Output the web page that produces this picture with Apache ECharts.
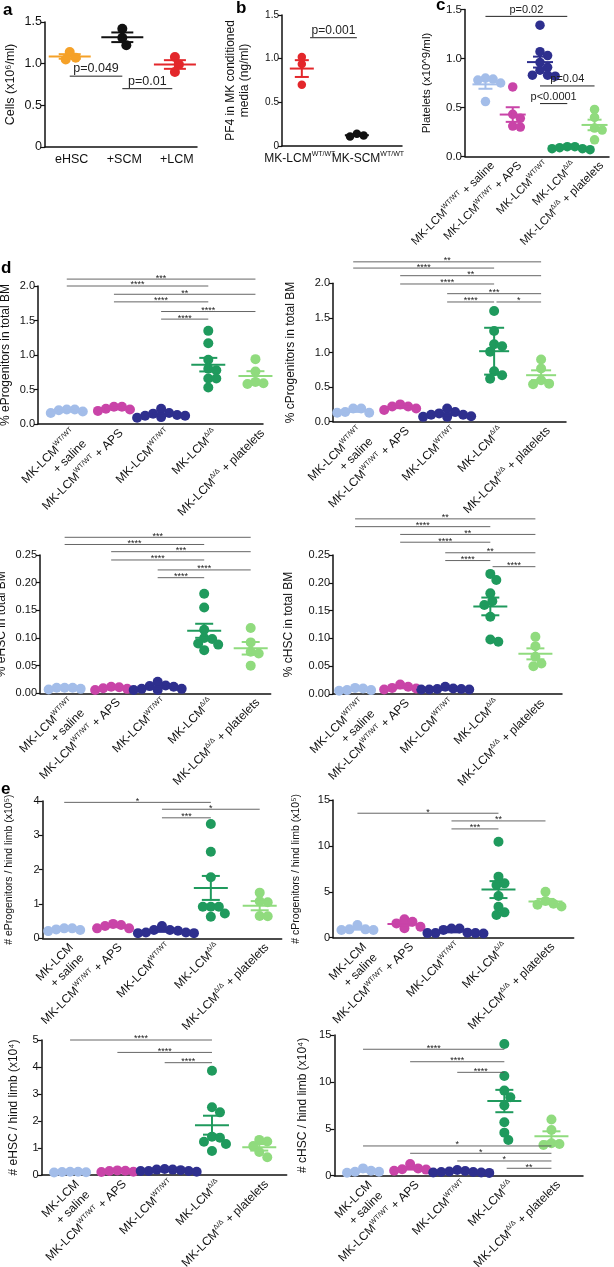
<!DOCTYPE html>
<html>
<head>
<meta charset="utf-8">
<script src="https://cdn.jsdelivr.net/npm/echarts@6/dist/echarts.min.js"></script>
<style>
  html, body { margin: 0; padding: 0; background: #fff; }
  #chart { width: 614px; height: 1267px; }
</style>
</head>
<body>
<div id="chart"></div>
<script>
// ---------- values ----------
// a: cells (x10^6/ml)
const aEHSC = [1.14, 1.05, 1.07];
const aSCM = [1.42, 1.31, 1.22];
const aLCM = [1.08, 0.99, 0.90];
const aSig = [[0, 1, 0.85, 'p=0.049'], [1, 1.95, 0.70, 'p=0.01']];

// b: PF4 (ng/ml)
const bLCM = [1.02, 0.94, 0.70];
const bSCM = [0.11, 0.14, 0.12];
const bSig = [[0.15, 1, 1.24, 'p=0.001']];

// c-e groups: WT/WT + saline, WT/WT + APS, WT/WT, Δ/Δ, Δ/Δ + platelets
const cPlatelets = [
  [0.79, 0.80, 0.75, 0.56, 0.78],
  [0.71, 0.43, 0.39, 0.31, 0.30],
  [1.34, 1.07, 1.03, 0.96, 0.91, 0.88, 0.83, 0.82, 0.83],
  [0.10, 0.08, 0.07, 0.09, 0.10, 0.08],
  [0.48, 0.40, 0.29, 0.27, 0.17]
];
const cSig = [[0, 3, 1.43, 'p=0.02'], [2, 4, 0.72, 'p=0.04'], [2, 3, 0.54, 'p<0.0001']];

const dEProg = [
  [0.18, 0.21, 0.21, 0.20, 0.16],
  [0.21, 0.25, 0.22, 0.25, 0.19],
  [0.12, 0.16, 0.13, 0.22, 0.10, 0.15, 0.09, 0.12],
  [1.35, 1.17, 0.93, 0.80, 0.78, 0.66, 0.66, 0.53],
  [0.94, 0.76, 0.61, 0.59, 0.58]
];
const dEProgSig = [[0, 4, 2.10, '***'], [0, 3, 2.00, '****'], [1, 4, 1.88, '**'], [1, 3, 1.77, '****'], [2, 4, 1.63, '****'], [2, 3, 1.52, '****']];

const dCProg = [
  [0.14, 0.19, 0.13, 0.19, 0.13],
  [0.19, 0.25, 0.22, 0.22, 0.17],
  [0.14, 0.10, 0.07, 0.19, 0.10, 0.07, 0.08, 0.12],
  [1.60, 1.31, 1.12, 1.09, 1.01, 0.73, 0.62, 0.67],
  [0.90, 0.77, 0.60, 0.54, 0.55]
];
const dCProgSig = [[0, 4, 2.31, '**'], [0, 3, 2.22, '****'], [1, 4, 2.11, '**'], [1, 3, 1.99, '****'], [2, 4, 1.85, '***'], [2, 3, 1.73, '****'], [3.05, 4, 1.73, '*']];

const dEHSC = [
  [0.008, 0.010, 0.010, 0.010, 0.007],
  [0.008, 0.012, 0.009, 0.011, 0.006],
  [0.008, 0.014, 0.008, 0.021, 0.006, 0.013, 0.006, 0.012],
  [0.180, 0.155, 0.115, 0.100, 0.098, 0.090, 0.088, 0.078],
  [0.118, 0.092, 0.075, 0.072, 0.050]
];
const dEHSCSig = [[0, 4, 0.282, '***'], [0, 3, 0.269, '****'], [1, 4, 0.256, '***'], [1, 3, 0.241, '****'], [2, 4, 0.223, '****'], [2, 3, 0.209, '****']];

const dCHSC = [
  [0.007, 0.011, 0.007, 0.010, 0.006],
  [0.010, 0.017, 0.011, 0.013, 0.008],
  [0.013, 0.010, 0.009, 0.008, 0.009, 0.008, 0.008],
  [0.216, 0.205, 0.181, 0.167, 0.160, 0.139, 0.094, 0.098],
  [0.103, 0.086, 0.067, 0.055, 0.050]
];
const dCHSCSig = [[0, 4, 0.315, '**'], [0, 3, 0.301, '****'], [1, 4, 0.287, '**'], [1, 3, 0.273, '****'], [2, 4, 0.254, '**'], [2, 3, 0.240, '****'], [3.05, 4, 0.229, '****']];

const eEProg = [
  [0.24, 0.29, 0.26, 0.29, 0.21],
  [0.29, 0.42, 0.36, 0.39, 0.29],
  [0.17, 0.24, 0.15, 0.36, 0.24, 0.15, 0.22, 0.17],
  [3.33, 2.52, 1.78, 0.92, 0.92, 0.92, 0.63, 0.72],
  [1.33, 1.05, 1.08, 0.65, 0.64]
];
const eEProgSig = [[0, 3, 3.96, '*'], [2, 4, 3.76, '*'], [2, 3, 3.51, '***']];

const eCProg = [
  [0.84, 1.38, 0.91, 0.91, 0.84],
  [2.00, 1.74, 1.20, 1.02, 1.56],
  [0.55, 1.00, 1.00, 0.85, 0.50, 0.50, 0.50, 0.45],
  [10.46, 5.92, 6.65, 5.74, 4.54, 3.38, 2.76, 2.47],
  [5.0, 4.0, 3.4, 3.6, 3.7]
];
const eCProgSig = [[0, 3, 13.56, '*'], [2, 4, 12.72, '**'], [2, 3, 11.85, '***']];

const eEHSC = [
  [0.10, 0.12, 0.11, 0.12, 0.09],
  [0.12, 0.17, 0.15, 0.16, 0.11],
  [0.15, 0.20, 0.15, 0.22, 0.12, 0.20, 0.18, 0.15],
  [3.86, 2.32, 2.51, 1.42, 1.23, 1.38, 1.15, 0.89],
  [1.30, 1.24, 1.07, 0.66, 0.85]
];
const eEHSCSig = [[0, 3, 5.0, '****'], [1, 3, 4.54, '****'], [2, 3, 4.16, '****']];

const eCHSC = [
  [0.53, 0.78, 0.43, 0.43, 0.32],
  [1.24, 0.78, 0.68, 0.65, 0.53],
  [0.50, 0.60, 0.40, 0.35, 0.45, 0.35, 0.40, 0.30],
  [14.04, 10.63, 9.07, 8.36, 7.50, 5.69, 4.59, 3.80],
  [6.00, 4.87, 3.27, 3.45, 3.38]
];
const eCHSCSig = [[0, 3, 13.48, '****'], [1, 3, 12.15, '****'], [2, 3, 11.02, '****'], [0, 4, 3.17, '*'], [1, 4, 2.39, '*'], [2, 4, 1.57, '*'], [3.05, 4, 0.79, '**']];

// category labels
const labelsC = ['MK-LCM{s|WT/WT} + saline', 'MK-LCM{s|WT/WT} + APS', 'MK-LCM{s|WT/WT}', 'MK-LCM{s|Δ/Δ}', 'MK-LCM{s|Δ/Δ} + platelets'];
const labelsD = ['MK-LCM{s|WT/WT}\n+ saline', 'MK-LCM{s|WT/WT} + APS', 'MK-LCM{s|WT/WT}', 'MK-LCM{s|Δ/Δ}', 'MK-LCM{s|Δ/Δ} + platelets'];
const labelsE = ['MK-LCM\n+ saline', 'MK-LCM{s|WT/WT} + APS', 'MK-LCM{s|WT/WT}', 'MK-LCM{s|Δ/Δ}', 'MK-LCM{s|Δ/Δ} + platelets'];

const groupColors = ['#a3bde9', '#c944a8', '#2e2f8e', '#1f9a5d', '#90db7e'];

// ---------- helpers ----------
const FONT = '"Liberation Sans", Arial, Helvetica, sans-serif';
const chart = echarts.init(document.getElementById('chart'));
const grids = [], xAxes = [], yAxes = [], series = [];

function mean (v) { return v.reduce((s, x) => s + x, 0) / v.length }
function sd (v) {
  const m = mean(v)
  return Math.sqrt(v.reduce((s, x) => s + (x - m) * (x - m), 0) / (v.length - 1))
}
function sem (v) { return sd(v) / Math.sqrt(v.length) }

// simple beeswarm, pixel offsets
function swarm (vals, pxY, d) {
  const order = vals.map((v, i) => i).sort((i, j) => vals[j] - vals[i])
  const placed = []
  const off = vals.map(() => 0)
  const minD = d * 0.8
  const step = d * 0.2
  order.forEach(i => {
    const y = vals[i] * pxY
    for (let k = 0; k < 400; k++) {
      const x = (k % 2 ? 1 : -1) * Math.ceil(k / 2) * step
      if (placed.every(p => (p.x - x) * (p.x - x) + (p.y - y) * (p.y - y) >= minD * minD)) {
        off[i] = x
        placed.push({ x, y })
        break
      }
    }
  })
  return off
}

function addPanel (p) {
  const gi = grids.length
  grids.push({ left: p.left, top: p.top, width: p.width, height: p.height, outerBoundsMode: 'none', containLabel: false })
  xAxes.push({
    gridIndex: gi, type: 'value', min: p.xMin, max: p.xMax,
    axisLine: { onZero: false, lineStyle: { color: '#111', width: 1.5 } },
    axisTick: { show: false }, axisLabel: { show: false }, splitLine: { show: false }
  })
  yAxes.push({
    gridIndex: gi, type: 'value', min: 0, max: p.yMax, interval: p.yStep,
    name: p.name, nameLocation: 'middle', nameGap: p.nameGap,
    nameTextStyle: { fontFamily: FONT, fontSize: p.nameSize, color: '#111', lineHeight: p.nameSize + 2 },
    axisLine: { onZero: false, lineStyle: { color: '#111', width: 1.5 } },
    axisTick: { length: 4, lineStyle: { color: '#111', width: 1.2 } },
    axisLabel: { fontFamily: FONT, fontSize: p.tickSize, color: '#111', margin: 3, formatter: v => (v === 0 && p.zero) ? p.zero : v.toFixed(p.dec) },
    splitLine: { show: false }
  })
  const pxX = p.width / (p.xMax - p.xMin)
  const pxY = p.height / p.yMax

  // dots
  p.groups.forEach((vals, g) => {
    const off = swarm(vals, pxY, p.dot)
    series.push({
      type: 'scatter', xAxisIndex: gi, yAxisIndex: gi, symbol: 'circle', symbolSize: p.dot, clip: false, z: 3,
      itemStyle: { color: p.colors[g], opacity: 1 },
      data: vals.map((v, i) => [g + off[i] / pxX, v])
    })
  })

  // mean and error bars
  series.push({
    type: 'custom', xAxisIndex: gi, yAxisIndex: gi, z: 4, silent: true,
    data: p.groups.map((v, g) => [g, mean(v), (p.sd || []).includes(g) ? sd(v) : sem(v)]),
    renderItem: (params, api) => {
      const g = api.value(0)
      const m = api.value(1)
      const e = api.value(2)
      const c = api.coord([g, m])
      const hi = api.coord([g, m + e])
      const lo = api.coord([g, m - e])
      const st = { stroke: p.colors[g], lineWidth: p.barLW }
      return {
        type: 'group',
        children: [
          { type: 'line', shape: { x1: c[0] - p.meanW, y1: c[1], x2: c[0] + p.meanW, y2: c[1] }, style: st },
          { type: 'line', shape: { x1: c[0], y1: hi[1], x2: c[0], y2: lo[1] }, style: st },
          { type: 'line', shape: { x1: c[0] - p.capW, y1: hi[1], x2: c[0] + p.capW, y2: hi[1] }, style: st },
          { type: 'line', shape: { x1: c[0] - p.capW, y1: lo[1], x2: c[0] + p.capW, y2: lo[1] }, style: st }
        ]
      }
    }
  })

  // significance lines
  series.push({
    type: 'custom', xAxisIndex: gi, yAxisIndex: gi, z: 5, silent: true,
    data: p.sig.map(s => [s[0], s[2], s[1]]),
    renderItem: (params, api) => {
      const s = p.sig[params.dataIndex]
      const a = api.coord([s[0], s[2]])
      const b = api.coord([s[1], s[2]])
      const star = s[3].charAt(0) === '*'
      return {
        type: 'group',
        children: [
          { type: 'line', shape: { x1: a[0], y1: a[1], x2: b[0], y2: b[1] }, style: { stroke: p.sigColor, lineWidth: p.sigLW } },
          {
            type: 'text', x: (a[0] + b[0]) / 2, y: a[1] - 1,
            style: {
              text: s[3], fill: '#222', fontFamily: FONT, fontSize: star ? 9 : p.pSize,
              align: 'center', verticalAlign: star ? 'middle' : 'bottom'
            }
          }
        ]
      }
    }
  })

  // category labels
  series.push({
    type: 'custom', xAxisIndex: gi, yAxisIndex: gi, z: 5, silent: true,
    data: p.labels.map((t, i) => [i, 0]),
    renderItem: (params, api) => {
      const i = params.dataIndex
      const pt = api.coord([i, 0])
      const dx = p.labDx + (p.labShift ? p.labShift[i] : 0)
      return {
        type: 'text', x: pt[0] + dx, y: pt[1] + p.labDy, rotation: p.labRot,
        style: {
          text: p.labels[i], fill: '#111', fontFamily: FONT, fontSize: p.labSize, lineHeight: p.labLH,
          align: p.labAlign, verticalAlign: 'top',
          rich: { s: { fontFamily: FONT, fontSize: 7, verticalAlign: 'top', lineHeight: p.labLH } }
        }
      }
    }
  })
}

const rot = Math.PI / 4
const common5 = { colors: groupColors, dot: 10, barLW: 2, meanW: 17, capW: 9, sigColor: '#555', sigLW: 0.9, pSize: 11,
  labRot: rot, labAlign: 'right', labDx: 2, labDy: 2, labSize: 12, labLH: 15, tickSize: 11 }

// a
addPanel({ left: 45, top: 22, width: 152, height: 125, xMin: -0.47, xMax: 2.42, yMax: 1.5, yStep: 0.5, dec: 1, zero: '0',
  name: 'Cells (x10⁶/ml)', nameGap: 27, nameSize: 12.5, tickSize: 12.5,
  groups: [aEHSC, aSCM, aLCM], colors: ['#f5a128', '#111111', '#e3272b'], dot: 10, barLW: 2, meanW: 21, capW: 11,
  sig: aSig, sigColor: '#222', sigLW: 1, pSize: 12.5,
  labels: ['eHSC', '+SCM', '+LCM'], labRot: 0, labAlign: 'center', labDx: 2, labDy: 5, labSize: 12.5, labLH: 15 })

// b
addPanel({ left: 282, top: 15, width: 120, height: 131, xMin: -0.36, xMax: 1.82, yMax: 1.5, yStep: 0.5, dec: 1, zero: '0',
  name: 'PF4 in MK conditioned\nmedia (ng/ml)', nameGap: 30, nameSize: 12, tickSize: 10,
  groups: [bLCM, bSCM], colors: ['#e3272b', '#111111'], dot: 8.5, barLW: 2, meanW: 12, capW: 7,
  sig: bSig, sigColor: '#222', sigLW: 1, pSize: 12,
  labels: ['MK-LCM{s|WT/WT}', 'MK-SCM{s|WT/WT}'], labShift: [-2, 11], labRot: 0, labAlign: 'center', labDx: 0, labDy: 5, labSize: 12, labLH: 15 })

// c
addPanel(Object.assign({}, common5, { left: 465, top: 9.5, width: 144, height: 147, xMin: -0.75, xMax: 4.53, yMax: 1.5, yStep: 0.5, dec: 1,
  name: 'Platelets (x10^9/ml)', nameGap: 31, nameSize: 11.5, tickSize: 11.5,
  groups: cPlatelets, dot: 9.5, meanW: 13, capW: 7, sig: cSig, sigColor: '#222', sigLW: 1, pSize: 11,
  labels: labelsC, labSize: 11.5 }))

// d row 1
addPanel(Object.assign({}, common5, { left: 38, top: 286, width: 225, height: 138, xMin: -0.61, xMax: 4.16, yMax: 2, yStep: 0.5, dec: 1,
  name: '% eProgenitors in total BM', nameGap: 25, nameSize: 12, groups: dEProg, sig: dEProgSig, labels: labelsD }))
addPanel(Object.assign({}, common5, { left: 333, top: 283.3, width: 233, height: 138.4, xMin: -0.43, xMax: 4.53, yMax: 2, yStep: 0.5, dec: 1,
  name: '% cProgenitors in total BM', nameGap: 35, nameSize: 12, groups: dCProg, sd: [3], meanW: 15, capW: 10, sig: dCProgSig, labels: labelsD }))

// d row 2
addPanel(Object.assign({}, common5, { left: 40, top: 555, width: 230.7, height: 138.3, xMin: -0.53, xMax: 4.43, yMax: 0.25, yStep: 0.05, dec: 2,
  name: '% eHSC in total BM', nameGap: 31, nameSize: 12, groups: dEHSC, sig: dEHSCSig, labels: labelsD }))
addPanel(Object.assign({}, common5, { left: 333, top: 555, width: 229, height: 139, xMin: -0.49, xMax: 4.59, yMax: 0.25, yStep: 0.05, dec: 2,
  name: '% cHSC in total BM', nameGap: 37, nameSize: 12, groups: dCHSC, sig: dCHSCSig, labels: labelsD }))

// e row 1
addPanel(Object.assign({}, common5, { left: 42.7, top: 801, width: 239, height: 137.3, xMin: -0.44, xMax: 4.45, yMax: 4, yStep: 1, dec: 0,
  name: '# eProgenitors / hind limb (x10⁵)', nameGap: 27, nameSize: 10.5, groups: eEProg, sig: eEProgSig, labels: labelsE }))
addPanel(Object.assign({}, common5, { left: 333, top: 800, width: 240.7, height: 137.7, xMin: -0.52, xMax: 4.6, yMax: 15, yStep: 5, dec: 0,
  name: '# cProgenitors / hind limb (x10⁵)', nameGap: 31, nameSize: 10.5, groups: eCProg, sig: eCProgSig, labels: labelsE }))

// e row 2
addPanel(Object.assign({}, common5, { left: 41.7, top: 1040, width: 245, height: 135, xMin: -0.6, xMax: 4.58, yMax: 5, yStep: 1, dec: 0,
  name: '# eHSC / hind limb (x10⁴)', nameGap: 21, nameSize: 12, groups: eEHSC, sig: eEHSCSig, labels: labelsE }))
addPanel(Object.assign({}, common5, { left: 334.3, top: 1035, width: 248.7, height: 140.7, xMin: -0.61, xMax: 4.67, yMax: 15, yStep: 5, dec: 0,
  name: '# cHSC / hind limb (x10⁴)', nameGap: 25, nameSize: 12, groups: eCHSC, sig: eCHSCSig, labels: labelsE }))

const letterStyle = { font: 'bold 17px ' + FONT, fill: '#000' }
chart.setOption({
  animation: false,
  backgroundColor: '#fff',
  textStyle: { fontFamily: FONT },
  grid: grids,
  xAxis: xAxes,
  yAxis: yAxes,
  series: series,
  graphic: [
    { type: 'text', left: 3, top: 2, style: Object.assign({ text: 'a' }, letterStyle) },
    { type: 'text', left: 236, top: 0, style: Object.assign({ text: 'b' }, letterStyle) },
    { type: 'text', left: 436, top: -3, style: Object.assign({ text: 'c' }, letterStyle) },
    { type: 'text', left: 1, top: 260, style: Object.assign({ text: 'd' }, letterStyle) },
    { type: 'text', left: 1, top: 781, style: Object.assign({ text: 'e' }, letterStyle) }
  ]
})
</script>
</body>
</html>
